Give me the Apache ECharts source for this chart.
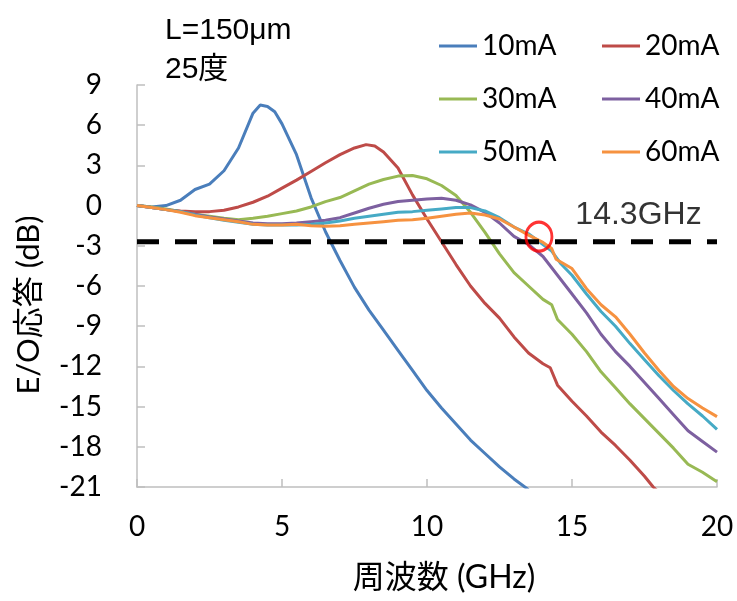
<!DOCTYPE html>
<html>
<head>
<meta charset="utf-8">
<script src="https://cdn.jsdelivr.net/npm/echarts@6/dist/echarts.min.js"></script>
<style>
  html, body { margin: 0; padding: 0; background: #fff; }
  #chart { width: 737px; height: 601px; }
</style>
</head>
<body>
<div id="chart"></div>
<script>
// E/O response vs frequency, one curve per bias current
const seriesNames = ['10mA', '20mA', '30mA', '40mA', '50mA', '60mA'];
const seriesColors = ['#4A7EBB', '#BE4B48', '#98B954', '#7D60A0', '#46AAC5', '#F69240'];

const xTicks = [0, 5, 10, 15, 20];
const yTicks = [-21, -18, -15, -12, -9, -6, -3, 0, 3, 6, 9];
const xTitle = '周波数 (GHz)';
const yTitle = 'E/O応答 (dB)';

// [frequency GHz, response dB]
const resp10mA = [[0,0],[0.5,-0.1],[1,0],[1.5,0.4],[2,1.2],[2.5,1.6],[3,2.6],[3.5,4.3],[4,6.9],[4.25,7.5],[4.5,7.4],[4.75,7.0],[5,6.1],[5.5,3.8],[6,0.6],[6.5,-1.95],[7,-4.1],[7.5,-6.1],[8,-7.8],[8.5,-9.3],[9,-10.8],[9.5,-12.3],[10,-13.8],[10.5,-15.1],[11,-16.3],[11.5,-17.5],[12,-18.5],[12.5,-19.5],[13,-20.4],[13.5,-21.2]];
const resp20mA = [[0,0],[0.5,-0.15],[1,-0.3],[1.5,-0.4],[2,-0.45],[2.5,-0.45],[3,-0.35],[3.5,-0.1],[4,0.25],[4.5,0.7],[5,1.3],[5.5,1.9],[6,2.55],[6.5,3.2],[7,3.8],[7.5,4.3],[7.9,4.55],[8.2,4.45],[8.5,4.0],[9,2.8],[9.5,0.8],[10,-1.0],[10.5,-2.7],[11,-4.4],[11.5,-6.0],[12,-7.3],[12.5,-8.4],[13,-9.8],[13.5,-11.0],[14,-11.8],[14.25,-12.1],[14.5,-13.4],[15,-14.6],[15.5,-15.7],[16,-16.9],[16.5,-17.9],[17,-19.0],[17.5,-20.2],[17.8,-21.0],[18,-21.4]];
const resp30mA = [[0,0],[0.5,-0.1],[1,-0.25],[1.5,-0.45],[2,-0.65],[2.5,-0.8],[3,-0.95],[3.5,-1.05],[4,-0.95],[4.5,-0.8],[5,-0.6],[5.5,-0.4],[6,-0.1],[6.5,0.3],[7,0.6],[7.5,1.1],[8,1.6],[8.5,1.95],[9,2.2],[9.5,2.25],[10,2.0],[10.5,1.5],[11,0.75],[11.5,-0.5],[12,-2.0],[12.5,-3.6],[13,-5.0],[13.5,-6.0],[14,-7.0],[14.3,-7.4],[14.5,-8.5],[15,-9.6],[15.5,-10.9],[16,-12.4],[16.5,-13.6],[17,-14.8],[17.5,-15.9],[18,-17.0],[18.5,-18.1],[19,-19.3],[19.5,-19.9],[20,-20.6]];
const resp40mA = [[0,0],[0.5,-0.15],[1,-0.3],[1.5,-0.45],[2,-0.65],[2.5,-0.85],[3,-1.0],[3.5,-1.15],[4,-1.3],[4.5,-1.35],[5,-1.35],[5.5,-1.3],[6,-1.2],[6.5,-1.1],[7,-0.9],[7.5,-0.55],[8,-0.2],[8.5,0.1],[9,0.3],[9.5,0.4],[10,0.5],[10.5,0.55],[11,0.4],[11.5,0.05],[12,-0.5],[12.5,-1.3],[13,-2.3],[13.5,-2.9],[14,-3.8],[14.5,-5.2],[15,-6.6],[15.5,-8.0],[16,-9.6],[16.5,-10.9],[17,-12.0],[17.5,-13.2],[18,-14.4],[18.5,-15.6],[19,-16.8],[19.5,-17.6],[20,-18.4]];
const resp50mA = [[0,0],[0.5,-0.15],[1,-0.3],[1.5,-0.45],[2,-0.7],[2.5,-0.9],[3,-1.1],[3.5,-1.25],[4,-1.4],[4.5,-1.45],[5,-1.45],[5.5,-1.45],[6,-1.4],[6.5,-1.3],[7,-1.15],[7.5,-0.95],[8,-0.8],[8.5,-0.65],[9,-0.5],[9.5,-0.45],[10,-0.35],[10.5,-0.25],[11,-0.15],[11.5,-0.15],[12,-0.4],[12.5,-0.9],[13,-1.6],[13.5,-2.1],[14,-2.9],[14.3,-3.4],[14.6,-4.3],[15,-5.2],[15.5,-6.6],[16,-7.9],[16.5,-9.0],[17,-10.3],[17.5,-11.5],[18,-12.7],[18.5,-13.8],[19,-14.8],[19.5,-15.7],[20,-16.7]];
const resp60mA = [[0,0],[0.5,-0.15],[1,-0.3],[1.5,-0.5],[2,-0.75],[2.5,-0.9],[3,-1.05],[3.5,-1.2],[4,-1.4],[4.5,-1.45],[5,-1.45],[5.5,-1.4],[6,-1.5],[6.5,-1.55],[7,-1.5],[7.5,-1.4],[8,-1.3],[8.5,-1.2],[9,-1.1],[9.5,-1.05],[10,-0.95],[10.5,-0.8],[11,-0.65],[11.5,-0.55],[12,-0.7],[12.5,-1.0],[13,-1.6],[13.5,-2.2],[14,-2.75],[14.3,-3.2],[14.45,-4.0],[15,-4.7],[15.5,-6.2],[16,-7.4],[16.5,-8.3],[17,-9.6],[17.5,-11.0],[18,-12.3],[18.5,-13.5],[19,-14.4],[19.5,-15.1],[20,-15.75]];
const responses = [resp10mA, resp20mA, resp30mA, resp40mA, resp50mA, resp60mA];

// -3 dB reference level and the marked crossing point
const refLevel = [[0, -2.7], [20, -2.7]];
const crossing = [[13.86, -2.32]];
const crossingLabel = '14.3GHz';

const baseFont = "Lato, 'Noto Sans CJK JP', sans-serif";
const arialFont = "'Liberation Sans', 'Noto Sans CJK JP', sans-serif";
const axisGray = '#BFBFBF';

const chart = echarts.init(document.getElementById('chart'), null, { renderer: 'canvas' });

const curveSeries = responses.map((d, i) => ({
  name: seriesNames[i],
  type: 'line',
  data: d,
  symbol: 'none',
  showSymbol: false,
  lineStyle: { width: 3, color: seriesColors[i] },
  itemStyle: { color: seriesColors[i] },
  z: 2 + i
}));

const legendCommon = {
  orient: 'vertical',
  icon: 'rect',
  padding: 0,
  itemWidth: 38,
  itemHeight: 3,
  itemGap: 23,
  textStyle: { fontFamily: baseFont, fontSize: 28, color: '#000', lineHeight: 30 },
  selectedMode: false
};

chart.setOption({
  animation: false,
  backgroundColor: '#fff',
  grid: { left: 137, right: 20, top: 85, bottom: 114, containLabel: false },
  legend: [
    Object.assign({ left: 439, top: 31, data: [seriesNames[0], seriesNames[2], seriesNames[4]] }, legendCommon),
    Object.assign({ left: 602, top: 31, data: [seriesNames[1], seriesNames[3], seriesNames[5]] }, legendCommon)
  ],
  xAxis: {
    type: 'value',
    min: xTicks[0],
    max: xTicks[xTicks.length - 1],
    interval: 5,
    axisLine: { onZero: false, lineStyle: { color: axisGray, width: 1.5 } },
    axisTick: { inside: true, length: 8, lineStyle: { color: axisGray, width: 1.5 } },
    axisLabel: { margin: 26, fontFamily: baseFont, fontSize: 28, color: '#000' },
    splitLine: { show: false }
  },
  yAxis: {
    type: 'value',
    min: yTicks[0],
    max: yTicks[yTicks.length - 1],
    interval: 3,
    axisLine: { show: true, onZero: false, lineStyle: { color: axisGray, width: 1.5 } },
    axisTick: { show: true, inside: true, length: 8, lineStyle: { color: axisGray, width: 1.5 } },
    axisLabel: { margin: 35, fontFamily: baseFont, fontSize: 28, color: '#000' },
    splitLine: { show: false }
  },
  series: curveSeries.concat([
    {
      name: 'ref',
      type: 'line',
      data: refLevel,
      symbol: 'none',
      lineStyle: { color: '#000', width: 5, type: [22, 16] },
      z: 20,
      silent: true
    },
    {
      name: 'crossing',
      type: 'scatter',
      data: crossing,
      symbol: 'circle',
      symbolSize: [26, 29],
      itemStyle: { color: 'rgba(0,0,0,0)', borderColor: '#FF0000', borderWidth: 3 },
      label: {
        show: true,
        formatter: crossingLabel,
        position: 'right',
        distance: 0,
        offset: [22, -22],
        fontFamily: "'Liberation Sans', sans-serif",
        fontSize: 32,
        color: '#000'
      },
      labelLine: { show: false },
      z: 30,
      silent: true
    }
  ]),
  graphic: [
    { type: 'text', x: 165, y: 31, style: { text: 'L=150μm', font: '30px ' + arialFont, fill: '#000', verticalAlign: 'middle' } },
    { type: 'text', x: 165, y: 70, style: { text: '25度', font: '30px ' + arialFont, fill: '#000', verticalAlign: 'middle' } },
    { type: 'text', x: 444, y: 578, style: { text: xTitle, font: '32px ' + baseFont, fill: '#000', align: 'center', verticalAlign: 'middle' } },
    { type: 'text', x: 29, y: 305, rotation: Math.PI / 2, style: { text: yTitle, font: '31px ' + baseFont, fill: '#000', align: 'center', verticalAlign: 'middle' } }
  ]
});
</script>
</body>
</html>
